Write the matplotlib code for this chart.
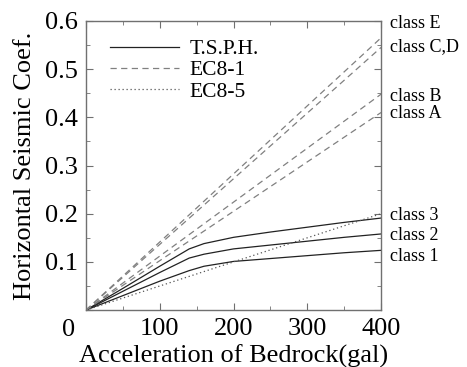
import matplotlib.pyplot as plt
import numpy as np

plt.rcParams['font.family'] = ['Liberation Serif', 'DejaVu Serif']

# acceleration of bedrock (gal)
acc = [0, 50, 100, 140, 160, 200, 250, 300, 350, 400]

# T.S.P.H. curves
tsph_1 = [0, 0.030, 0.060, 0.082, 0.091, 0.101, 0.107, 0.113, 0.119, 0.124]
tsph_2 = [0, 0.039, 0.078, 0.108, 0.116, 0.127, 0.135, 0.143, 0.151, 0.158]
tsph_3 = [0, 0.045, 0.091, 0.127, 0.138, 0.151, 0.162, 0.172, 0.182, 0.191]

# EC8-1 (linear)
ec81_acc = [0, 400]
ec81_A = [0, 0.410]
ec81_B = [0, 0.448]
ec81_CD = [0, 0.545]
ec81_E = [0, 0.565]

# EC8-5
ec85_acc = [0, 400]
ec85 = [0, 0.200]

class_labels = ['class E', 'class C,D', 'class B', 'class A',
                'class 3', 'class 2', 'class 1']
class_label_y = [0.595, 0.547, 0.443, 0.407, 0.197, 0.155, 0.112]

fig = plt.figure(figsize=(4.67, 3.67), dpi=100)
ax = fig.add_axes([0.184, 0.155, 0.632, 0.788])

solid_c = '#222222'
dash_c = '#808080'
ls_dash = (0, (5, 3.5))
ls_dot = (0, (1, 2.2))

for yv in [tsph_1, tsph_2, tsph_3]:
    ax.plot(acc, yv, color=solid_c, lw=0.9)
for yv in [ec81_A, ec81_B, ec81_CD, ec81_E]:
    ax.plot(ec81_acc, yv, color=dash_c, lw=0.9, ls=ls_dash)
ax.plot(ec85_acc, ec85, color='#555555', lw=0.9, ls=ls_dot)

# legend handles
ax.plot([], [], color=solid_c, lw=0.9, label='T.S.P.H.')
ax.plot([], [], color=dash_c, lw=0.9, ls=ls_dash, label='EC8-1')
ax.plot([], [], color='#555555', lw=0.9, ls=ls_dot, label='EC8-5')
h, l = ax.get_legend_handles_labels()
ax.legend(h[-3:], l[-3:], loc='upper left', frameon=False, fontsize=15.5,
          handlelength=3.2, handletextpad=0.5, labelspacing=0.05,
          bbox_to_anchor=(0.02, 1.0), borderaxespad=0.45)

ax.set_xlim(0, 400)
ax.set_ylim(0, 0.6)
ax.set_xticks([0, 100, 200, 300, 400])
ax.set_xticklabels(['', '100', '200', '300', '400'])
ax.set_xticks(np.arange(0, 401, 50), minor=True)
ax.set_yticks([0, 0.1, 0.2, 0.3, 0.4, 0.5, 0.6])
ax.set_yticklabels(['', '0.1', '0.2', '0.3', '0.4', '0.5', '0.6'])
ax.set_yticks(np.arange(0, 0.61, 0.05), minor=True)
ax.tick_params(which='both', direction='in', top=True, right=True,
               colors='#707070', labelcolor='black', labelsize=19)
ax.tick_params(which='major', length=5, pad=6)
ax.tick_params(which='minor', length=3)
for sp in ax.spines.values():
    sp.set_color('#707070')
    sp.set_linewidth(1.0)

ax.text(-0.06, -0.03, '0', transform=ax.transAxes, fontsize=19,
        ha='center', va='top')

for lab, yv in zip(class_labels, class_label_y):
    ax.text(1.03, yv, lab, transform=ax.get_yaxis_transform(),
            fontsize=13, ha='left', va='center')

ax.set_xlabel('Acceleration of Bedrock(gal)', fontsize=19, labelpad=3)
ax.set_ylabel('Horizontal Seismic Coef.', fontsize=19, labelpad=6)

fig.savefig('out.png', dpi=100)
